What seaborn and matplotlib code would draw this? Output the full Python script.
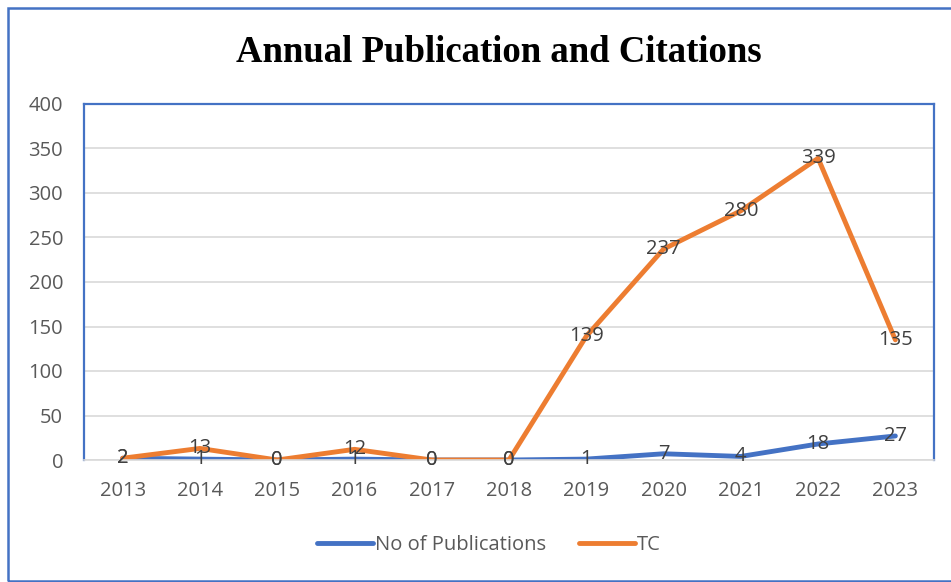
import pandas as pd
import matplotlib.pyplot as plt
import seaborn as sns
from matplotlib.patches import Rectangle

# Data uit de grafiek
years = [2013, 2014, 2015, 2016, 2017, 2018, 2019, 2020, 2021, 2022, 2023]
publications = [2, 1, 0, 1, 0, 0, 1, 7, 4, 18, 27]
citations = [2, 13, 0, 12, 0, 0, 139, 237, 280, 339, 135]

df = pd.DataFrame({'Year': years, 'No of Publications': publications, 'TC': citations})

sns.set_style('white')
plt.rcParams['font.family'] = ['Open Sans', 'DejaVu Sans']

fig = plt.figure(figsize=(9.51, 5.82), dpi=100)
ax = fig.add_axes([84 / 951, 1 - 460 / 582, 850 / 951, 356 / 582])

blue = '#4472C4'
orange = '#ED7D31'

sns.lineplot(x='Year', y='No of Publications', data=df, color=blue, linewidth=3.5,
             ax=ax, label='No of Publications', solid_capstyle='round')
sns.lineplot(x='Year', y='TC', data=df, color=orange, linewidth=3.5,
             ax=ax, label='TC', solid_capstyle='round')

# Waarden bij de punten
for x, y in zip(years, publications):
    ax.text(x, y, str(y), ha='center', va='center', fontsize=14.5, color='#404040')
for x, y in zip(years, citations):
    ax.text(x, y, str(y), ha='center', va='center', fontsize=14.5, color='#404040')

ax.set_xlim(2012.5, 2023.5)
ax.set_ylim(0, 400)
ax.set_xticks(years)
ax.set_xticklabels([str(y) for y in years])
ax.set_yticks(range(0, 401, 50))
ax.tick_params(axis='both', length=0, labelsize=14.5, labelcolor='#595959')
ax.tick_params(axis='y', pad=15)
ax.tick_params(axis='x', pad=15)
ax.grid(axis='y', color='#D9D9D9', linewidth=1.2)
ax.set_axisbelow(True)
ax.set_xlabel('')
ax.set_ylabel('')

for side in ['left', 'top', 'right']:
    ax.spines[side].set_color(blue)
    ax.spines[side].set_linewidth(1.6)
    ax.spines[side].set_visible(True)
ax.spines['bottom'].set_color('#D9D9D9')
ax.spines['bottom'].set_linewidth(1.2)

ax.get_legend().remove()
handles, labels = ax.get_legend_handles_labels()
leg = fig.legend(handles, labels, loc='center', bbox_to_anchor=(489 / 951, 1 - 545 / 582), ncol=2,
                 frameon=False, fontsize=14.5, handlelength=2.8, columnspacing=1.6, handletextpad=0.1)
for t in leg.get_texts():
    t.set_color('#595959')

fig.text(499 / 951, 1 - 53 / 582, 'Annual Publication and Citations', ha='center', va='center',
         fontsize=26.5, fontweight='bold', family='Liberation Serif', color='black')

# Rand rond de figuur
fig.patches.append(Rectangle((8 / 951, 1.5 / 582), 960 / 951, 573 / 582, transform=fig.transFigure,
                             fill=False, edgecolor=blue, linewidth=1.8))

plt.savefig('out.png', dpi=100)
